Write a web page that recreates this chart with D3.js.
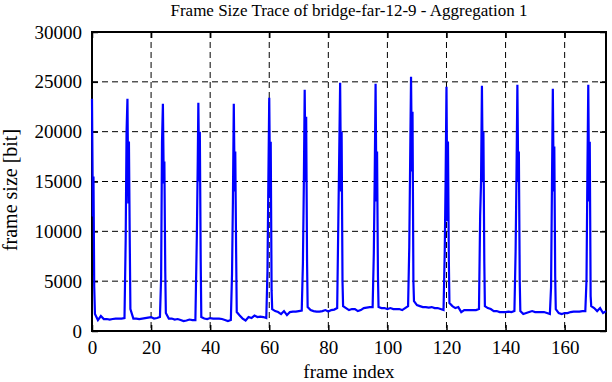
<!DOCTYPE html>
<html><head><meta charset="utf-8">
<script src="https://cdn.jsdelivr.net/npm/d3@7"></script>
<style>
body{margin:0;background:#fff}
svg text{font-family:"Liberation Serif","Times New Roman",serif;fill:#000}
</style>
</head><body><svg id="c" width="612" height="382"></svg>
<script>
// ---- data ----
const titleText = "Frame Size Trace of bridge-far-12-9 - Aggregation 1";
const xLabel = "frame index";
const yLabel = "frame size [bit]";
const xTicks = [0,20,40,60,80,100,120,140,160];
const yTicks = [0,5000,10000,15000,20000,25000,30000];
const xDomain = [0,174];
const yDomain = [0,30000];

// frame size for each frame index 0..174
const frameSize = [
23300,1700,1100,1500,1200,1200,1150,1200,1250,1250,1250,1300,
23300,2200,1250,1250,1200,1250,1300,1350,1400,1250,1300,1400,
22800,1800,1250,1250,1150,1200,1100,1000,1050,1150,1100,1100,
22900,1400,1250,1200,1300,1250,1250,1250,1200,1100,1000,1100,
22800,1900,1550,1250,1050,1400,1300,1550,1400,1450,1400,1300,
23400,2200,2000,1900,1700,2000,1600,1900,1950,1950,2000,2050,
24200,2400,2100,2000,1950,1950,2000,2100,1950,2100,2150,2300,
24900,2500,2300,2100,2200,2200,2000,2100,2300,2350,2400,2400,
24800,2400,2300,2300,2200,2300,2200,2200,2200,2100,2300,2500,
25500,3000,2600,2500,2400,2400,2350,2400,2300,2300,2200,2100,
24500,2800,2500,2300,2400,1900,2100,2100,2100,2100,2100,2200,
24600,2500,2300,2200,2000,2000,1900,1900,1900,1950,1900,2000,
24700,2000,1700,1800,1900,2000,1900,1900,1900,1900,1800,1700,
24300,2200,1800,1700,1800,1800,1900,1950,1950,1950,2000,2000,
24700,2500,2300,2000,2300,1800,2000
];

// intra-frame samples around the I-frame bursts
const subFrameIndex = [
0.3,0.5,0.75,
11.4,11.7,12.3,12.5,12.8,
23.4,23.7,24.3,24.5,24.8,
35.5,35.8,36.3,36.5,36.8,
47.4,47.7,48.3,48.5,48.8,
59.4,59.7,60.3,60.5,60.8,
71.4,71.7,72.3,72.5,72.8,
83.4,83.7,84.3,84.5,84.8,
95.4,95.7,96.3,96.5,96.8,
107.4,107.7,108.3,108.5,108.8,
119.4,119.7,120.3,120.5,120.8,
131.4,131.7,132.3,132.5,132.8,
143.4,143.7,144.3,144.5,144.8,
155.4,155.7,156.3,156.5,156.8,
167.4,167.7,168.3,168.5,168.8
];
const subFrameSize = [
11500,15500,4500,
9100,20000,12800,19000,8400,
5400,19000,14800,17000,6000,
9700,17000,15000,20000,7000,
5700,13000,14000,18000,7700,
6000,15000,13400,19000,4100,
6800,14400,15000,21500,7000,
11300,18000,14000,20000,5000,
7800,15400,13000,18000,5500,
8400,17000,16000,22000,5000,
7800,15000,11000,19000,7000,
11600,15000,15000,20000,7000,
8000,15700,15000,18000,5000,
4400,14400,14000,18500,5500,
5100,15700,13000,19000,3500
];

// ---- drawing ----
const m = {left:92, right:606, top:32, bottom:331};
const svg = d3.select("#c");
const x = d3.scaleLinear().domain(xDomain).range([m.left, m.right]);
const y = d3.scaleLinear().domain(yDomain).range([m.bottom, m.top]);

// grid
const g = svg.append("g");
g.selectAll(".gx").data(xTicks.filter(d=>d>xDomain[0] && d<xDomain[1])).join("line")
  .attr("x1",d=>x(d)).attr("x2",d=>x(d)).attr("y1",m.top).attr("y2",m.bottom)
  .attr("stroke","#000").attr("stroke-width",1).attr("stroke-dasharray","6,4");
g.selectAll(".gy").data(yTicks.filter(d=>d>yDomain[0] && d<yDomain[1])).join("line")
  .attr("y1",d=>y(d)).attr("y2",d=>y(d)).attr("x1",m.left).attr("x2",m.right)
  .attr("stroke","#000").attr("stroke-width",1).attr("stroke-dasharray","6,4");

// axes (ticks point inward, mirrored)
const tl = 6;
function styleAxis(sel, fs){
  sel.select(".domain").remove();
  sel.selectAll(".tick line").attr("stroke","#000").attr("stroke-width",1.5);
  sel.selectAll(".tick text").style("font-size",fs).attr("fill","#000");
}
svg.append("g").attr("transform",`translate(0,${m.bottom})`)
  .call(d3.axisBottom(x).tickValues(xTicks).tickSizeInner(-tl).tickSizeOuter(0).tickPadding(10))
  .call(s=>styleAxis(s,"19px"));
svg.append("g").attr("transform",`translate(0,${m.top})`)
  .call(d3.axisTop(x).tickValues(xTicks).tickSizeInner(-tl).tickSizeOuter(0).tickFormat(""))
  .call(s=>styleAxis(s,"19px"));
svg.append("g").attr("transform",`translate(${m.left},0)`)
  .call(d3.axisLeft(y).tickValues(yTicks).tickSizeInner(-tl).tickSizeOuter(0).tickPadding(10).tickFormat(d3.format("d")))
  .call(s=>styleAxis(s,"19px"));
svg.append("g").attr("transform",`translate(${m.right},0)`)
  .call(d3.axisRight(y).tickValues(yTicks).tickSizeInner(-tl).tickSizeOuter(0).tickFormat(""))
  .call(s=>styleAxis(s,"19px"));

// frame
svg.append("rect").attr("x",m.left).attr("y",m.top)
  .attr("width",m.right-m.left).attr("height",m.bottom-m.top)
  .attr("fill","none").attr("stroke","#000").attr("stroke-width",2);

// data line (drawn over the frame, as in the reference)
const pts = frameSize.map((v,i)=>[i,v])
  .concat(subFrameIndex.map((xi,k)=>[xi, subFrameSize[k]]))
  .sort((a,b)=>a[0]-b[0]);
svg.append("path").datum(pts)
  .attr("fill","none").attr("stroke","#0000ff").attr("stroke-width",2.2)
  .attr("stroke-linejoin","miter")
  .attr("d", d3.line().x(d=>x(d[0])).y(d=>y(d[1])));

// texts
svg.append("text").attr("x",(m.left+m.right)/2).attr("y",16)
  .attr("text-anchor","middle").style("font-size","17px").text(titleText);
svg.append("text").attr("x",(m.left+m.right)/2).attr("y",378)
  .attr("text-anchor","middle").style("font-size","19px").text(xLabel);
svg.append("text").attr("transform","translate(17,190) rotate(-90)")
  .attr("text-anchor","middle").style("font-size","20px").text(yLabel);
</script>
</body></html>
